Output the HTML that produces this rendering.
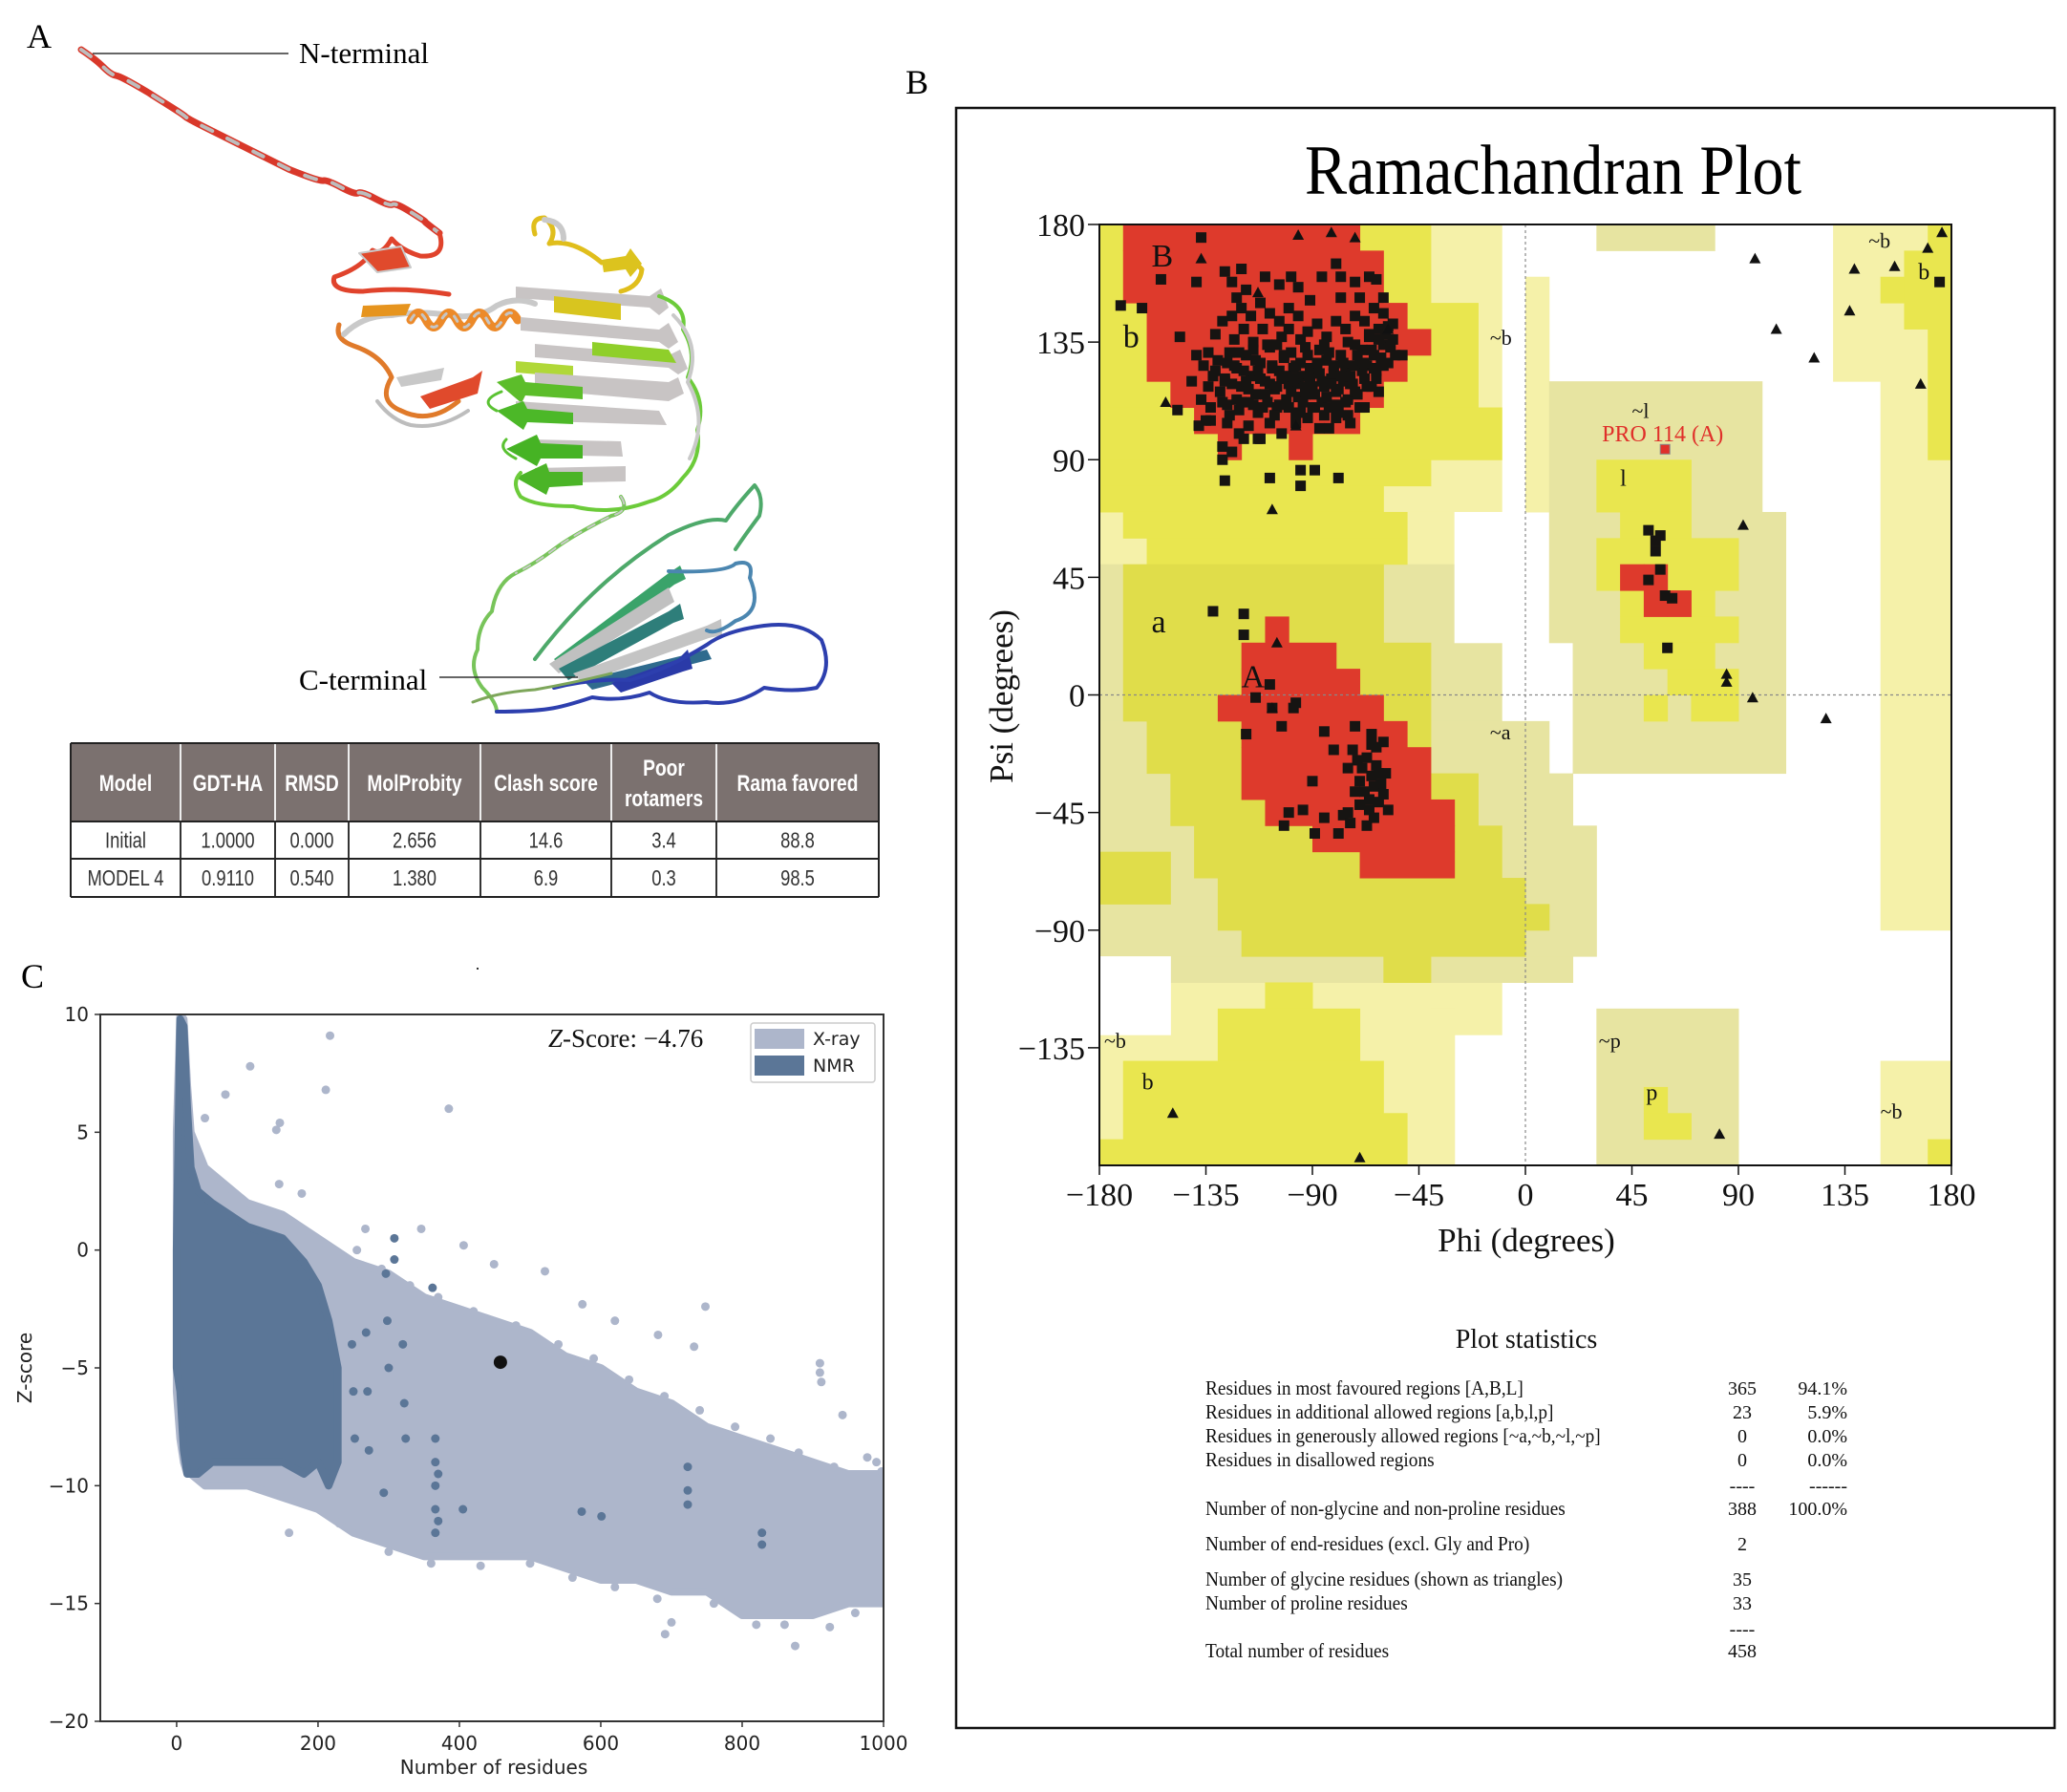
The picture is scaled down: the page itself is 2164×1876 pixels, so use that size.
<!DOCTYPE html>
<html><head><meta charset="utf-8"><style>
html,body{margin:0;padding:0;background:#fff}
svg{display:block}
.serif{font-family:"Liberation Serif","DejaVu Serif",serif}
.sans{font-family:"DejaVu Sans","Liberation Sans",sans-serif}
.narrow{font-family:"Liberation Sans Narrow","Liberation Sans",sans-serif}
</style></head><body>
<svg id="fig" width="2164" height="1876" viewBox="0 0 2164 1876" xmlns="http://www.w3.org/2000/svg">
<rect width="2164" height="1876" fill="#fff"/>

<!-- Panel A -->
<g id="panelA">
<text x="28" y="50" class="serif" font-size="36">A</text>
<g id="protein" fill="none" stroke-linecap="round" stroke-linejoin="round">
  <path d="M85,52 Q100,62 108,70 T121,79 T140,88 T157,98 T176,110 T194,122 T212,132 T230,141 T248,150 T266,159 T284,168 T302,177 T320,184 T339,189 T357,196 T375,202 T393,208 T411,214 T430,222 T445,232 T460,244" stroke="#d9382a" stroke-width="7"/>
  <path d="M85,52 Q100,62 108,70 T121,79 T140,88 T157,98 T176,110 T194,122 T212,132 T230,141 T248,150 T266,159 T284,168 T302,177 T320,184 T339,189 T357,196 T375,202 T393,208 T411,214 T430,222 T445,232 T460,244" stroke="#bdbdbd" stroke-width="4" stroke-dasharray="12 18"/>
  <path d="M460,244 Q468,270 440,268 Q420,262 410,250 Q400,268 390,262 Q380,280 350,290 Q345,305 380,305 Q420,300 470,308" stroke="#e0432c" stroke-width="5"/>
  <path d="M376,265 L420,258 L430,280 L395,285 Z" fill="#e04a2c" stroke="#c9c9c9" stroke-width="2"/>
  <path d="M355,340 Q350,355 370,362 Q400,372 410,395 Q395,420 420,430 Q450,445 480,420" stroke="#e07a2a" stroke-width="5"/>
  <path d="M360,350 Q380,330 410,330 Q440,325 470,330 Q500,335 520,320 Q540,310 560,318" stroke="#c9c9c9" stroke-width="6"/>
  <path d="M395,420 Q410,440 430,445 Q460,450 490,430" stroke="#bdbdbd" stroke-width="4"/>
  <path d="M430,335 q8,-15 16,0 q8,15 16,0 q8,-15 16,0 q8,15 16,0 q8,-15 16,0 q8,15 16,0 q8,-15 16,0" stroke="#ec8a2a" stroke-width="9"/>
  <path d="M430,335 q8,-15 16,0 q8,15 16,0 q8,-15 16,0 q8,15 16,0 q8,-15 16,0 q8,15 16,0 q8,-15 16,0" stroke="#c5c5c5" stroke-width="3" stroke-dasharray="6 10"/>
  <path d="M380,320 L430,318 L425,330 L378,332 Z" fill="#e6941e"/>
  <path d="M440,415 L495,395 L505,388 L500,412 L450,428 Z" fill="#e04a2c"/>
  <path d="M415,395 L465,385 L462,398 L420,405 Z" fill="#c8c8c8"/>
  <path d="M560,245 Q555,228 570,228 Q585,240 575,255 Q600,250 630,275 Q660,268 672,282 Q670,300 650,305" stroke="#e0be1c" stroke-width="5"/>
  <path d="M570,230 Q590,232 590,250" stroke="#c9c9c9" stroke-width="6"/>
  <path d="M630,272 L655,268 L660,260 L672,276 L660,290 L655,282 L632,285 Z" fill="#dcc31e"/>
  <path d="M540,300 L680,310 L692,302 L700,322 L690,330 L680,322 L540,312 Z" fill="#c8c4c4"/>
  <path d="M580,310 L650,318 L650,335 L580,327 Z" fill="#d8c51f"/>
  <path d="M545,332 L690,345 L700,338 L710,358 L700,365 L690,358 L545,346 Z" fill="#c8c4c4"/>
  <path d="M560,360 L700,372 L712,366 L720,386 L710,392 L700,385 L560,374 Z" fill="#c8c4c4"/>
  <path d="M620,358 L700,366 L708,380 L620,372 Z" fill="#8fcf2a"/>
  <path d="M540,378 L600,383 L600,395 L540,390 Z" fill="#b0d838"/>
  <path d="M560,390 L700,400 L710,395 L716,412 L700,420 L560,408 Z" fill="#c8c4c4"/>
  <path d="M520,400 L546,392 L550,400 L610,405 L610,418 L550,414 L546,422 Z" fill="#5cbd2a"/>
  <path d="M540,420 L690,430 L698,445 L540,440 Z" fill="#c8c4c4"/>
  <path d="M520,430 L548,420 L552,428 L600,432 L600,444 L552,442 L548,450 Z" fill="#4cb828"/>
  <path d="M555,460 L650,462 L652,478 L555,476 Z" fill="#c8c4c4"/>
  <path d="M530,470 L562,455 L566,464 L610,466 L610,480 L566,480 L562,488 Z" fill="#46b324"/>
  <path d="M560,490 L655,488 L655,504 L560,506 Z" fill="#c8c4c4"/>
  <path d="M540,500 L572,485 L575,494 L610,494 L610,508 L575,510 L572,518 Z" fill="#4bb427"/>
  <path d="M690,310 Q720,320 715,345 Q730,370 720,395 Q740,420 730,450 Q735,480 715,500 Q700,520 680,525 Q640,540 600,530 Q560,530 545,520 Q535,505 545,495" stroke="#6ccb3a" stroke-width="4"/>
  <path d="M705,330 Q735,360 720,400 Q742,440 722,480" stroke="#c9c9c9" stroke-width="4"/>
  <path d="M540,480 Q520,470 530,460 M520,430 Q500,420 525,410" stroke="#5ac232" stroke-width="3"/>
  <path d="M650,520 Q660,535 640,540 Q600,560 580,575 Q560,590 540,600 Q520,610 515,640 Q500,655 500,680 Q490,700 505,720 Q520,735 520,745" stroke="#78c45a" stroke-width="4"/>
  <path d="M650,520 Q660,535 640,540 Q600,560 580,575 Q560,590 540,600" stroke="#c9c9c9" stroke-width="2" stroke-dasharray="8 8"/>
  <path d="M560,690 Q620,610 700,560 Q740,540 760,545 Q770,530 790,508 Q800,520 795,540 Q780,560 770,575" stroke="#4ea96a" stroke-width="4"/>
  <path d="M580,690 L700,600 L712,592 L718,606 L706,612 L590,700 Z" fill="#3aa36a"/>
  <path d="M575,695 L700,615 L706,630 L585,705 Z" fill="#c0c0c0"/>
  <path d="M585,700 L700,640 L712,632 L716,648 L705,652 L595,712 Z" fill="#2e7e7a"/>
  <path d="M600,705 L740,655 L755,648 L756,665 L742,668 L610,715 Z" fill="#c4c4c4"/>
  <path d="M610,712 L740,680 L745,690 L620,722 Z" fill="#2f6b8e"/>
  <path d="M700,598 Q760,600 770,590 Q790,585 785,605 Q800,640 770,650 Q750,665 740,660" stroke="#4b86b0" stroke-width="4"/>
  <path d="M640,715 L710,690 L720,680 L725,700 L715,703 L650,725 Z" fill="#2a3aa8"/>
  <path d="M580,720 Q620,710 660,712 Q700,700 740,675 Q760,660 800,655 Q840,650 860,670 Q872,700 855,720 Q830,725 800,720 Q770,740 740,735 Q700,738 680,725 Q650,735 620,730 Q590,740 575,742 Q555,745 520,745" stroke="#2d3fae" stroke-width="4"/>
  <path d="M495,735 Q520,725 560,722 Q600,715 640,705" stroke="#7da65a" stroke-width="3"/>
</g>
<text x="313" y="66" class="serif" font-size="31">N-terminal</text>
<line x1="97" y1="56" x2="302" y2="56" stroke="#333" stroke-width="1.5"/>
<text x="313" y="722" class="serif" font-size="31">C-terminal</text>
<line x1="460" y1="709" x2="605" y2="709" stroke="#333" stroke-width="1.5"/>

<g id="table" class="narrow"></g>
</g>

<!-- Panel B -->
<g id="panelB">
<text x="948" y="98" class="serif" font-size="36">B</text>
<rect x="1001" y="113" width="1150" height="1696" fill="none" stroke="#111" stroke-width="2.5"/>
<text x="1626" y="203" class="serif" font-size="74" text-anchor="middle" textLength="520" lengthAdjust="spacingAndGlyphs">Ramachandran Plot</text>
<g id="rama"></g>
<g id="stats" class="serif"></g>
</g>

<!-- Panel C -->
<g id="panelC">
<text x="22" y="1034" class="serif" font-size="36">C</text>
<rect x="499" y="1013" width="2" height="2" fill="#333"/>
<g id="zplot"></g>
</g>
</svg>

<script>
// ====== Table data ======
const tableHeaders = ["Model","GDT-HA","RMSD","MolProbity","Clash score","Poor|rotamers","Rama favored"];
const tableRow1 = ["Initial","1.0000","0.000","2.656","14.6","3.4","88.8"];
const tableRow2 = ["MODEL 4","0.9110","0.540","1.380","6.9","0.3","98.5"];

// ====== Ramachandran data (phi, psi) ======
const rSqPhi = [-171,-162,-137,-154,-146,-139,-127,-120,-122,-99,-80,-72,-63,-100,-91,-78,-127,-108,-95,-95,-89,-79,-128,-119,-113,-83,-69,-138,-135,-147,-52,-56,
-130,-127,-125,-122,-120,-118,-116,-114,-112,-110,-108,-106,-104,-102,-100,-98,-96,-94,-92,-90,-88,-86,-84,-82,-80,-78,-76,-74,-72,-70,-68,-66,-64,-62,-60,-58,
-129,-126,-123,-121,-119,-117,-115,-113,-111,-109,-107,-105,-103,-101,-99,-97,-95,-93,-91,-89,-87,-85,-83,-81,-79,-77,-75,-73,-71,-69,-67,-65,-63,-61,
-132,-134,-136,-131,-128,-124,-120,-116,-112,-108,-104,-100,-96,-92,-88,-84,-80,-76,-72,-68,-64,-60,
-126,-121,-117,-112,-108,-103,-97,-92,-87,-80,-74,-68,-62,-58,-139,-141,-137,-133,-124,-118,-110,-104,-96,-86,-78,-70,-66,-60,-56,-55,-128,-124,
-134,-131,-128,-126,-124,-122,-121,-119,-117,-115,-114,-112,-110,-109,-107,-105,-104,-102,-101,-99,-97,-96,-94,-93,-91,-89,-88,-86,-84,-83,-81,-79,-77,-76,-74,-72,-71,-69,-67,-65,-63,-62,-60,
-127,-123,-118,-113,-108,-103,-98,-93,-87,-82,-78,-73,-68,-64,-120,-111,-100,-90,-80,-70,-133,-125,-106,-95,-85,-75,-115,-105,-95,-85,-75,-66,-59,-57,
-132,-119,-119,-108,-114,-107,-98,-97,-118,-103,-85,-72,-81,-60,-65,-90,-100,-94,-102,-89,-85,-77,-79,-74,-75,
-73,-71,-69,-67,-65,-63,-61,-70,-68,-66,-64,-62,-60,-58,-66,-64,-62,-72,-70,-75,-67,-59,-63,-65,
52,55,57,55,52,57,59,62,60,175];
const rSqPsi = [149,148,175,159,137,158,162,163,152,160,165,158,159,148,151,152,82,83,86,80,86,83,95,98,98,102,110,103,105,109,130,142,
128,120,131,125,118,130,122,115,127,120,133,117,124,129,119,125,114,122,130,118,124,112,128,121,116,130,124,119,134,127,121,137,130,140,134,141,
116,111,136,109,140,112,135,108,140,112,126,110,137,113,131,108,127,115,125,110,132,118,110,126,108,120,113,126,115,132,126,118,124,129,
122,131,126,138,143,145,148,145,150,146,143,140,145,139,142,137,143,140,145,143,148,146,
104,100,103,98,104,100,104,106,102,106,104,110,116,127,130,120,113,105,158,155,160,157,156,160,160,152,160,152,136,130,90,93,
118,124,112,127,119,113,131,124,117,111,128,121,115,134,125,118,111,130,122,116,126,119,112,133,121,115,127,120,114,131,123,117,127,112,122,116,130,124,118,132,121,136,126,
121,126,120,124,119,121,121,118,123,119,122,119,127,125,112,110,110,110,111,110,110,107,107,108,107,107,132,134,136,134,135,138,138,133,
32,31,23,4,-1,-5,-5,-3,-15,-12,-14,-12,-21,-18,-19,-33,-45,-44,-50,-53,-47,-46,-53,-49,-45,
-21,-25,-28,-24,-31,-27,-34,-33,-37,-40,-35,-41,-38,-44,-44,-47,-30,-37,-42,-28,-50,-30,-20,-15,
63,59,61,55,44,48,38,37,18,158];
const glyPhi = [-96,-82,-72,-137,-113,-152,-97,-58,-107,-105,-107,-149,-70,97,106,122,92,85,85,96,127,82,137,139,156,170,176,167];
const glyPsi = [176,177,175,167,154,112,103,140,71,20,-5,-160,-177,167,140,129,65,8,5,-1,-9,-168,147,163,164,171,177,119];
const proPhi = [59];
const proPsi = [94];
const phiTicks = [-180,-135,-90,-45,0,45,90,135,180];
const psiTicks = [180,135,90,45,0,-45,-90,-135];

// region rectangles [phi1,phi2,psiTop,psiBottom]
const regPale = [[-180,-10,180,70],[-180,-30,70,50],[0,10,160,70],[-180,-30,-110,-180],[-40,-30,-120,-180],[-30,-10,-110,-130],[130,150,180,120],[150,180,180,-90],[150,180,-140,-180]];
const regTan = [[-180,-30,50,20],[-180,-10,20,-10],[-180,10,-10,-30],[-180,20,-30,-50],[-180,30,-50,-100],[-150,20,-100,-110],[10,100,120,20],[20,110,70,-30],[30,80,180,170],[30,90,-120,-180]];
const regWhite = [[-180,-150,-100,-130],[-30,0,70,20]];
const regYellow = [[-180,-40,180,150],[-180,-20,150,110],[-180,-10,110,90],[-180,-40,90,80],[-180,-60,80,70],[-170,-50,70,60],[-160,-50,60,50],
 [-110,-90,-110,-120],[-130,-70,-120,-140],[-170,-60,-140,-160],[-170,-50,-160,-180],[-180,-170,-170,-180],
 [30,70,90,70],[40,70,70,60],[30,90,60,40],[40,80,40,30],[40,90,30,20],[50,80,20,10],[60,90,10,0],[50,60,0,-10],[70,90,0,-10],
 [150,170,160,150],[160,180,170,140],[170,180,180,90],[170,180,-170,-180],[50,60,-150,-160],[50,70,-160,-170]];
const regA = [[-170,-60,50,-10],[-160,-40,20,-30],[-150,-20,-30,-50],[-140,-10,-50,-70],[-130,0,-70,-80],[-130,10,-80,-90],[-120,0,-90,-100],[-180,-150,-60,-80],[-60,-40,-100,-110]];
const regRed = [[-170,-70,180,170],[-170,-60,170,150],[-160,-50,150,140],[-160,-40,140,130],[-160,-50,130,120],[-150,-60,120,110],[-140,-70,110,100],[-130,-120,100,90],[-100,-90,100,90],
 [-110,-100,30,20],[-120,-80,20,10],[-120,-70,10,0],[-130,-60,0,-10],[-120,-50,-10,-20],[-120,-40,-20,-40],[-110,-30,-40,-50],[-90,-30,-50,-60],[-70,-30,-60,-70],
 [40,50,50,40],[50,60,50,30],[60,70,40,30]];

// ====== Z-score plot data ======
const xrayN = [0,5,10,15,20,40,60,100,150,200,250,300,350,400,450,500,550,600,650,700,750,800,850,900,950,1000];
const xrayUpper = [5,10,9.8,7,5,3.5,3,2,1.5,0.5,-0.5,-1,-2,-2.5,-3,-3.5,-4.5,-5,-6,-6.5,-7.5,-8,-8.5,-9,-9.5,-9.5];
const xrayLower = [-6,-8,-9,-9.5,-9.5,-10,-10,-10,-10.5,-11,-12,-12.5,-13,-13,-13,-13,-13.5,-14,-14,-14.5,-14.5,-15.5,-15.5,-15.5,-15,-15];
const nmrN = [0,5,10,15,20,30,50,100,150,180,200,215,228];
const nmrUpper = [0,9.8,9.5,6,3.5,2.5,2,1,0.5,-0.5,-1.5,-3,-5];
const nmrLower = [-5,-6,-8.5,-9.5,-9.5,-9.5,-9,-9,-9,-9.5,-9,-10,-9];
const xrayOutN = [217,104,69,211,385,146,141,40,145,177,267,346,406,521,574,620,748,681,732,910,942,977,997,159,924,875,691,449,910,912,700,660,
  255,290,330,370,420,480,540,590,640,690,740,790,840,880,930,990,230,300,360,430,500,560,620,680,760,820,860,960];
const xrayOutZ = [9.1,7.8,6.6,6.8,6.0,5.4,5.1,5.6,2.8,2.4,0.9,0.9,0.2,-0.9,-2.3,-3.0,-2.4,-3.6,-4.1,-4.8,-7.0,-8.8,-9.4,-12.0,-16.0,-16.8,-16.3,-0.6,-5.2,-5.6,-15.8,-14.0,
  0.0,-0.8,-1.5,-2.0,-2.6,-3.2,-4.0,-4.6,-5.5,-6.2,-6.8,-7.5,-8.0,-8.6,-9.2,-9.0,-11.6,-12.8,-13.3,-13.4,-13.3,-13.9,-14.3,-14.8,-15.0,-15.9,-15.9,-15.4];
const nmrOutN = [308,308,362,405,573,601,293,723,723,723,828,828,366,366,366,366,366,370,370,248,250,252,268,270,272,296,298,300,320,322,324];
const nmrOutZ = [0.5,-0.4,-1.6,-11.0,-11.1,-11.3,-10.3,-9.2,-10.2,-10.8,-12.0,-12.5,-8,-9,-10,-11,-12,-9.5,-11.5,-4,-6,-8,-3.5,-6,-8.5,-1,-3,-5,-4,-6.5,-8];
const modelN = [458];
const modelZ = [-4.76];
const zxTicks = [0,200,400,600,800,1000];
const zyTicks = [10,5,0,-5,-10,-15,-20];

const NS = "http://www.w3.org/2000/svg";
function mk(tag, attrs, parent){const e=document.createElementNS(NS,tag);for(const k in attrs)e.setAttribute(k,attrs[k]);parent.appendChild(e);return e;}

// ====== Table ======
(function(){
  const g=document.getElementById('table');
  const colX=[74,189,288,365,503,640,750,920];
  const yT=778,yH=860,y1=899,y2=939;
  const hb=mk('rect',{x:74,y:yT,width:846,height:yH-yT,fill:'#7b716f'},g);
  
  
  tableHeaders.forEach((h,i)=>{
    const cx=(colX[i]+colX[i+1])/2;
    const parts=h.split('|');
    parts.forEach((p,j)=>{
      const yy=parts.length>1?(yT+34+j*32):(yT+50);
      const t=mk('text',{x:0,y:0,transform:`translate(${cx},${yy}) scale(0.8,1)`,'text-anchor':'middle','font-size':24,'font-weight':'bold',fill:'#fff'},g);
      t.textContent=p;
      
      
    });
  });
  [[tableRow1,(yH+y1)/2+8],[tableRow2,(y1+y2)/2+8]].forEach(([row,yy])=>{
    row.forEach((v,i)=>{
      const t=mk('text',{x:0,y:0,transform:`translate(${(colX[i]+colX[i+1])/2},${yy}) scale(0.8,1)`,'text-anchor':'middle','font-size':23,fill:'#333'},g);
      t.textContent=v;
      
      
    });
  });
  colX.forEach((x,i)=>{
    const l=mk('line',{x1:x,y1:yT,x2:x,y2:y2,stroke:i===0||i===7?'#222':'#eee',  'stroke-width':2},g);
    if(i>0&&i<7){mk('line',{x1:x,y1:yH,x2:x,y2:y2,stroke:'#333','stroke-width':2},g);}
    
    
  });
  [yT,yH,y1,y2].forEach(y=>{
    const l=mk('line',{x1:74,y1:y,x2:920,y2:y,stroke:'#222','stroke-width':2},g);
    
    
  });
})();

// ====== Ramachandran ======
(function(){
  const g=document.getElementById('rama');
  const L=1151,R=2043,T=235,B=1220;
  const px=p=>L+(p+180)*(R-L)/360;
  const py=s=>T+(180-s)*(B-T)/360;
  function rects(list,color,name){
    list.forEach(r=>{
      const e=mk('rect',{x:px(r[0]),y:py(r[2]),width:px(r[1])-px(r[0])+0.5,height:py(r[3])-py(r[2])+0.5,fill:color},g);
      
      
    });
  }
  rects(regPale,'#f5f1a9','generously-allowed-region');
  rects(regTan,'#e7e4a1','generously-allowed-region');
  rects(regWhite,'#ffffff','disallowed-region');
  rects(regYellow,'#e9e64f','additional-allowed-region');
  rects(regA,'#e0dd4a','additional-allowed-region');
  rects(regRed,'#de3a2c','most-favoured-region');
  const z1=mk('line',{x1:px(0),y1:T,x2:px(0),y2:B,stroke:'#888','stroke-width':1.2,'stroke-dasharray':'3 3'},g);
  
  
  const z2=mk('line',{x1:L,y1:py(0),x2:R,y2:py(0),stroke:'#888','stroke-width':1.2,'stroke-dasharray':'3 3'},g);
  
  
  const fr=mk('rect',{x:L,y:T,width:R-L,height:B-T,fill:'none',stroke:'#111','stroke-width':2},g);
  
  
  const labs=[['B',-158,164,34],['b',-170,133,34],['a',-158,24,34],['A',-120,3,34],['~b',-15,134,22],['~a',-15,-17,22],['~l',45,106,22],['l',40,80,24],['PRO 114 (A)',58,97,24],
    ['~b',145,171,22],['b',166,159,24],['~b',-178,-135,22],['b',-162,-151,24],['~p',31,-135,22],['p',51,-155,24],['~b',150,-162,22]];
  labs.forEach(l=>{
    const t=mk('text',{x:px(l[1]),y:py(l[2]),'font-size':l[3],fill:l[0].startsWith('PRO')?'#e0302a':'#111',class:'serif','text-anchor':l[0].startsWith('PRO')?'middle':'start'},g);
    t.textContent=l[0];
    
    
  });
  for(let i=0;i<rSqPhi.length;i++){
    const s=mk('rect',{x:px(rSqPhi[i])-5.5,y:py(rSqPsi[i])-5.5,width:11,height:11,fill:'#161412'},g);
    
    
  }
  for(let i=0;i<proPhi.length;i++){
    const s=mk('rect',{x:px(proPhi[i])-5,y:py(proPsi[i])-5,width:10,height:10,fill:'#e0302a',stroke:'#888','stroke-width':1},g);
    
    
  }
  for(let i=0;i<glyPhi.length;i++){
    const x=px(glyPhi[i]),y=py(glyPsi[i]);
    const tr=mk('polygon',{points:`${x},${y-6} ${x-6},${y+5} ${x+6},${y+5}`,fill:'#111'},g);
    
    
  }
  phiTicks.forEach(v=>{
    const tk=mk('line',{x1:px(v),y1:B,x2:px(v),y2:B+10,stroke:'#111','stroke-width':1.5},g);
    
    
    const t=mk('text',{x:px(v),y:B+42,'text-anchor':'middle','font-size':34,class:'serif',fill:'#111'},g);
    t.textContent=(v<0?'\u2212':'')+Math.abs(v);
    
    
  });
  psiTicks.forEach(v=>{
    const tk=mk('line',{x1:L-12,y1:py(v),x2:L,y2:py(v),stroke:'#111','stroke-width':1.5},g);
    
    
    const t=mk('text',{x:L-15,y:py(v)+12,'text-anchor':'end','font-size':34,class:'serif',fill:'#111'},g);
    t.textContent=(v<0?'\u2212':'')+Math.abs(v);
    
    
  });
  const xt=mk('text',{x:1598,y:1310,'text-anchor':'middle','font-size':35,class:'serif',fill:'#111'},g);
  xt.textContent='Phi (degrees)';
  
  
  const yt=mk('text',{x:0,y:0,'text-anchor':'middle','font-size':35,class:'serif',fill:'#111',transform:'translate(1060,729) rotate(-90)'},g);
  yt.textContent='Psi (degrees)';
  
  
})();

// ====== Plot statistics ======
(function(){
  const g=document.getElementById('stats');
  const h=mk('text',{x:1598,y:1411,'text-anchor':'middle','font-size':28,fill:'#111'},g);
  h.textContent='Plot statistics';
  
  
  const rows=[[1460,'Residues in most favoured regions  [A,B,L]','365','94.1%'],[1485,'Residues in additional allowed regions  [a,b,l,p]','23','5.9%'],
    [1510,'Residues in generously allowed regions  [~a,~b,~l,~p]','0','0.0%'],[1535,'Residues in disallowed regions','0','0.0%'],
    [1562,'','----','------'],[1586,'Number of non-glycine and non-proline residues','388','100.0%'],[1623,'Number of end-residues (excl. Gly and Pro)','2',''],
    [1660,'Number of glycine residues (shown as triangles)','35',''],[1685,'Number of proline residues','33',''],[1712,'','----',''],[1735,'Total number of residues','458','']];
  rows.forEach(r=>{
    if(r[1]){const t=mk('text',{x:0,y:0,transform:`translate(1262,${r[0]}) scale(0.92,1)`,'font-size':21,fill:'#111','xml:space':'preserve'},g);t.textContent=r[1];
      
      }
    if(r[2]){const t=mk('text',{x:1824,y:r[0],'font-size':20,fill:'#111','text-anchor':'middle'},g);t.textContent=r[2];
      
      }
    if(r[3]){const t=mk('text',{x:1934,y:r[0],'font-size':20,fill:'#111','text-anchor':'end'},g);t.textContent=r[3];
      
      }
  });
})();

// ====== Z-score plot ======
(function(){
  const g=document.getElementById('zplot');
  const L=105,R=925,T=1062,B=1802;
  const xMin=-108,xMax=1000,yMin=-20,yMax=10;
  const sx=n=>L+(n-xMin)*(R-L)/(xMax-xMin);
  const sy=z=>T+(yMax-z)*(B-T)/(yMax-yMin);
  const clip=mk('clipPath',{id:'zclip'},g);
  mk('rect',{x:L,y:T,width:R-L,height:B-T},clip);
  const body=mk('g',{'clip-path':'url(#zclip)'},g);
  function band(ns,up,lo,color,name){
    let pts=[];
    for(let i=0;i<ns.length;i++)pts.push(sx(ns[i])+','+sy(up[i]));
    for(let i=ns.length-1;i>=0;i--)pts.push(sx(ns[i])+','+sy(lo[i]));
    const p=mk('polygon',{points:pts.join(' '),fill:color,stroke:color,'stroke-width':8,'stroke-linejoin':'round'},body);
    
    
  }
  band(xrayN,xrayUpper,xrayLower,'#adb6cb','xray-cloud');
  for(let i=0;i<xrayOutN.length;i++){
    const c=mk('circle',{cx:sx(xrayOutN[i]),cy:sy(xrayOutZ[i]),r:4.5,fill:'#adb6cb'},body);
    
    
  }
  band(nmrN,nmrUpper,nmrLower,'#5b7697','nmr-cloud');
  for(let i=0;i<nmrOutN.length;i++){
    const c=mk('circle',{cx:sx(nmrOutN[i]),cy:sy(nmrOutZ[i]),r:4.5,fill:'#5b7697'},body);
    
    
  }
  for(let i=0;i<modelN.length;i++){
    const c=mk('circle',{cx:sx(modelN[i]),cy:sy(modelZ[i]),r:7,fill:'#111'},body);
    
    
  }
  const fr=mk('rect',{x:L,y:T,width:R-L,height:B-T,fill:'none',stroke:'#333','stroke-width':2},g);
  
  
  zxTicks.forEach(v=>{
    const tk=mk('line',{x1:sx(v),y1:B,x2:sx(v),y2:B+6,stroke:'#333','stroke-width':1.5},g);
    
    
    const t=mk('text',{x:sx(v),y:B+30,'text-anchor':'middle','font-size':20,class:'sans',fill:'#222'},g);
    t.textContent=v;
    
    
  });
  zyTicks.forEach(v=>{
    const tk=mk('line',{x1:L-6,y1:sy(v),x2:L,y2:sy(v),stroke:'#333','stroke-width':1.5},g);
    
    
    const t=mk('text',{x:L-12,y:sy(v)+7,'text-anchor':'end','font-size':20,class:'sans',fill:'#222'},g);
    t.textContent=(v<0?'\u2212':'')+Math.abs(v);
    
    
  });
  const xt=mk('text',{x:517,y:1857,'text-anchor':'middle','font-size':20,class:'sans',fill:'#222'},g);
  xt.textContent='Number of residues';
  
  
  const yt=mk('text',{x:0,y:0,'text-anchor':'middle','font-size':20,class:'sans',fill:'#222',transform:'translate(33,1432) rotate(-90)'},g);
  yt.textContent='Z-score';
  
  
  const zs=mk('text',{x:574,y:1096,'font-size':27,class:'serif',fill:'#111'},g);
  zs.innerHTML='<tspan font-style="italic">Z</tspan>-Score: \u22124.76';
  
  
  const lg=mk('g',{},g);
  
  
  mk('rect',{x:786,y:1071,width:130,height:62,rx:3,fill:'#fff',stroke:'#ccc','stroke-width':1.5},lg);
  const s1=mk('rect',{x:790,y:1077,width:52,height:21,fill:'#adb6cb'},lg);
  
  
  const s2=mk('rect',{x:790,y:1105,width:52,height:21,fill:'#5b7697'},lg);
  
  
  const t1=mk('text',{x:851,y:1094,'font-size':19,class:'sans',fill:'#222'},lg);
  t1.textContent='X-ray';
  
  
  const t2=mk('text',{x:851,y:1122,'font-size':19,class:'sans',fill:'#222'},lg);
  t2.textContent='NMR';
  
  
})();
</script>
</body></html>
